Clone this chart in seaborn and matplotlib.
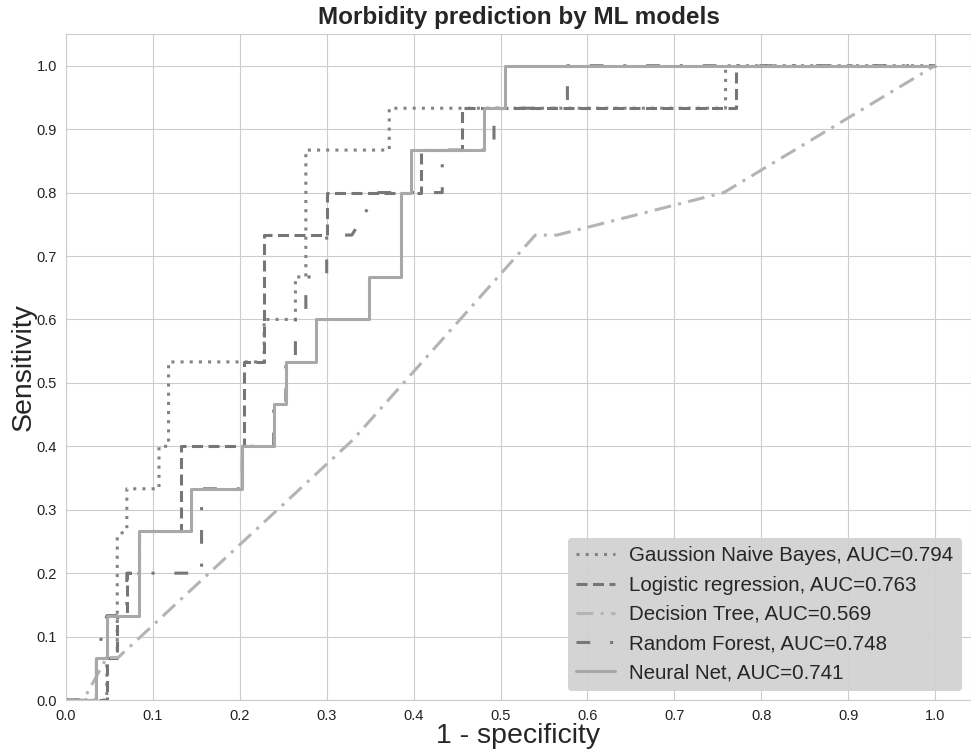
"""ROC curves of the morbidity prediction models."""

import numpy as np
import pandas as pd
import matplotlib
matplotlib.use("Agg")
import matplotlib.pyplot as plt
import seaborn as sns

sns.set_style("whitegrid")
plt.rcParams["font.family"] = ["Liberation Sans", "DejaVu Sans"]

# fpr / tpr vertices
gnb_fpr = [0, 0.047, 0.047, 0.059, 0.059, 0.07, 0.07, 0.107, 0.107, 0.118, 0.118, 0.205,
           0.228, 0.228, 0.264, 0.264, 0.276, 0.276, 0.372, 0.372, 0.759, 0.759, 1.0]
gnb_tpr = [0, 0, 0.067, 0.067, 0.26, 0.267, 0.333, 0.333, 0.4, 0.4, 0.533, 0.533,
           0.533, 0.6, 0.6, 0.667, 0.667, 0.867, 0.867, 0.933, 0.933, 1.0, 1.0]

lr_fpr = [0, 0.047, 0.047, 0.059, 0.059, 0.07, 0.07, 0.084, 0.084, 0.132, 0.132, 0.205,
          0.205, 0.228, 0.228, 0.30, 0.30, 0.408, 0.408, 0.456, 0.456, 0.771, 0.771, 1.0]
lr_tpr = [0, 0, 0.067, 0.067, 0.133, 0.133, 0.2, 0.2, 0.267, 0.267, 0.4, 0.4,
          0.533, 0.533, 0.733, 0.733, 0.8, 0.8, 0.867, 0.867, 0.933, 0.933, 1.0, 1.0]

dt_fpr = [0, 0.02, 0.047, 0.06, 0.33, 0.54, 0.565, 0.757, 1.0]
dt_tpr = [0, 0, 0.067, 0.067, 0.41, 0.733, 0.733, 0.80, 1.0]

rf_fpr = [0, 0.035, 0.035, 0.047, 0.07, 0.07, 0.156, 0.156, 0.203, 0.203, 0.239, 0.239,
          0.253, 0.253, 0.264, 0.264, 0.276, 0.276, 0.30, 0.30, 0.329, 0.358, 0.433,
          0.433, 0.4925, 0.4925, 0.577, 0.577, 1.0]
rf_tpr = [0, 0, 0.067, 0.133, 0.133, 0.2, 0.2, 0.333, 0.333, 0.4, 0.4, 0.467,
          0.467, 0.533, 0.533, 0.6, 0.6, 0.667, 0.667, 0.733, 0.733, 0.8, 0.8,
          0.867, 0.867, 0.933, 0.933, 1.0, 1.0]

nn_fpr = [0, 0.034, 0.034, 0.047, 0.047, 0.084, 0.084, 0.144, 0.144, 0.203, 0.203, 0.239,
          0.239, 0.253, 0.253, 0.288, 0.288, 0.349, 0.349, 0.385, 0.385, 0.397, 0.397,
          0.481, 0.481, 0.505, 0.505, 1.0]
nn_tpr = [0, 0, 0.067, 0.067, 0.133, 0.133, 0.267, 0.267, 0.333, 0.333, 0.4, 0.4,
          0.467, 0.467, 0.533, 0.533, 0.6, 0.6, 0.667, 0.667, 0.8, 0.8, 0.867,
          0.867, 0.933, 0.933, 1.0, 1.0]

model_names = ["Gaussion Naive Bayes", "Logistic regression", "Decision Tree",
               "Random Forest", "Neural Net"]
auc_values = [0.794, 0.763, 0.569, 0.748, 0.741]

curves = [(gnb_fpr, gnb_tpr), (lr_fpr, lr_tpr), (dt_fpr, dt_tpr),
          (rf_fpr, rf_tpr), (nn_fpr, nn_tpr)]
colors = ["#838383", "#767676", "#b4b4b4", "#777777", "#a8a8a8"]
styles = [(0, (1, 2)), (0, (3.6, 1.8)), (0, (5.5, 2.4, 1, 2.4)),
          (0, (4.5, 6.5, 1, 6.5)), "-"]

fig = plt.figure(figsize=(9.71, 7.54), dpi=100)
ax = fig.add_axes([66 / 971, 54 / 754, 905 / 971, 666 / 754])

for (fpr, tpr), name, auc, c, ls in zip(curves, model_names, auc_values, colors, styles):
    df = pd.DataFrame({"fpr": fpr, "tpr": tpr})
    sns.lineplot(data=df, x="fpr", y="tpr", ax=ax, sort=False, estimator=None,
                 color=c, linestyle=ls, lw=2.2, label=f"{name}, AUC={auc:.3f}")

ticks = np.arange(0, 1.01, 0.1)
ax.set_xlim(0, 905 / 869)
ax.set_ylim(0, 1.05)
ax.set_xticks(ticks)
ax.set_yticks(ticks)
ax.set_xticklabels([f"{v:.1f}" for v in ticks], fontsize=10.5)
ax.set_yticklabels([f"{v:.1f}" for v in ticks], fontsize=10.5)
ax.tick_params(axis="both", pad=3, colors="#222222")
ax.set_xlabel("1 - specificity", fontsize=20.5, labelpad=0)
ax.set_ylabel("Sensitivity", fontsize=20.5, labelpad=0)
ax.set_title("Morbidity prediction by ML models", fontsize=17.5, fontweight="bold", pad=7)

leg = ax.legend(loc="lower right", bbox_to_anchor=(1.0, 0.0), fontsize=14.8,
                facecolor="#d2d2d2", framealpha=0.95, edgecolor="none",
                handlelength=1.9, handletextpad=0.7, borderpad=0.4,
                labelspacing=0.5, borderaxespad=0.45)

plt.savefig("out.png", dpi=100)
